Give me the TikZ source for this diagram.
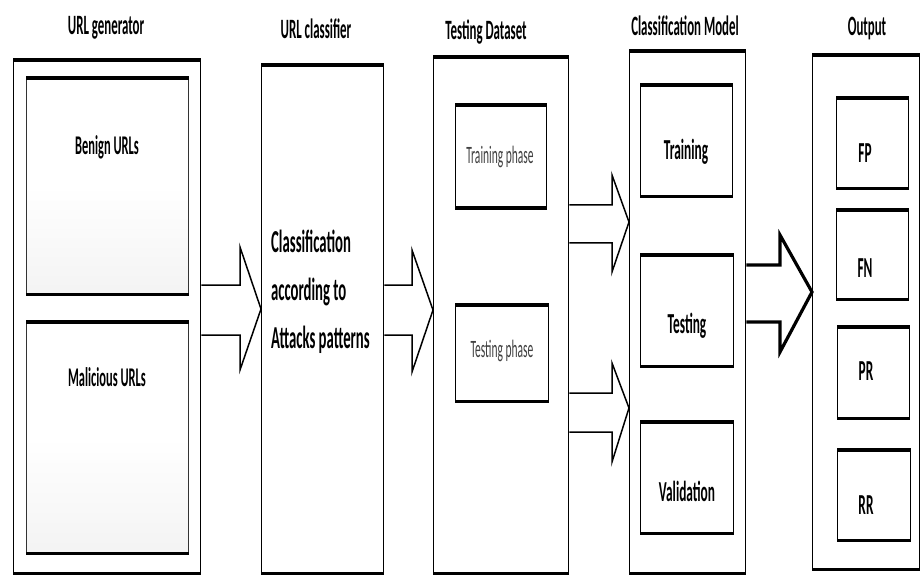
\documentclass[tikz,border=0pt]{standalone}
\usepackage{fontspec}
\setmainfont{Carlito}[FakeStretch=0.46]
\usetikzlibrary{calc}
\newcommand\fsz[1]{\fontsize{#1}{#1}\selectfont}
\tikzset{
  thickedge/.style={draw, line width=3.4pt, -},
  box/.style={draw, line width=1.4pt, fill=white, inner sep=0pt, anchor=north west,
    append after command={
      (\tikzlastnode.north west) edge[thickedge] (\tikzlastnode.north east)
      (\tikzlastnode.south west) edge[thickedge] (\tikzlastnode.south east)}},
  urlbox/.style={box, top color=white, bottom color=gray!9, middle color=white, draw=black!80},
  title/.style={font=\fsz{28}\bfseries, inner sep=0pt},
  lbl/.style={font=\fsz{29}\bfseries, inner sep=0pt},
  phase/.style={font=\fsz{25}, text=black!75, inner sep=0pt},
  blockarrow/.style={draw, line width=1.5pt, line join=miter},
}
\begin{document}
\begin{tikzpicture}[x=1pt, y=-1pt]
\useasboundingbox[fill=white] (0,0) rectangle (922,575);

% titles
\node[title] (tgen) at (106,28) {URL generator};
\node[title] (tcls) at (316,29) {URL classifier};
\node[title] (tds)  at (486,32) {Testing Dataset};
\node[title] (tmod) at (685,26) {Classification Model};
\node[title] (tout) at (867,29) {Output};

% outer boxes
\node[box, minimum width=187pt, minimum height=512pt] (gen) at (13,60) {};
\node[box, minimum width=122pt, minimum height=507pt] (cls) at (261,65) {};
\node[box, minimum width=135pt, minimum height=515pt] (ds)  at (433,57) {};
\node[box, minimum width=116pt, minimum height=521pt] (mod) at (629,51) {};
\node[box, minimum width=107pt, minimum height=513pt] (out) at (812,55) {};

% URL generator content
\node[urlbox, minimum width=162pt, minimum height=215pt] (benign) at (26,78) {};
\node[urlbox, minimum width=162pt, minimum height=230pt] (malic) at (26,322) {};
\node[lbl, font=\fsz{27}\bfseries] (tbenign) at (107,147) {Benign URLs};
\node[lbl, font=\fsz{27}\bfseries] (tmalic) at (107,377) {Malicious URLs};

% URL classifier content
\node[font=\fontsize{32}{48}\selectfont\bfseries, align=left, anchor=west, inner sep=0pt] (tclass) at (271,292)
  {Classification\\according to\\Attacks patterns};

% Testing dataset content
\node[box, line width=1.2pt, minimum width=91pt, minimum height=102pt] (trph) at (455,105) {};
\node[box, line width=1.2pt, minimum width=93pt, minimum height=95pt] (teph) at (455,305) {};
\node[phase] (ttrph) at (500,157) {Training phase};
\node[phase] (tteph) at (502,351) {Testing phase};

% Classification model content
\node[box, minimum width=92pt, minimum height=110pt] (train) at (640,85) {};
\node[box, minimum width=93pt, minimum height=110pt] (test) at (640,255) {};
\node[box, minimum width=93pt, minimum height=110pt] (valid) at (640,422) {};
\node[lbl] (ttrain) at (686,152) {Training};
\node[lbl] (ttest) at (687,326) {Testing};
\node[lbl] (tvalid) at (687,491) {Validation};

% Output content
\node[box, minimum width=72pt, minimum height=89pt] (fp) at (836,98) {};
\node[box, minimum width=72pt, minimum height=88pt] (fn) at (836,210) {};
\node[box, minimum width=72pt, minimum height=90pt] (pr) at (837,327) {};
\node[box, minimum width=73pt, minimum height=89pt] (rr) at (837,450) {};
\node[lbl] (tfp) at (865,153) {FP};
\node[lbl] (tfn) at (865,268) {FN};
\node[lbl] (tpr) at (866,371) {PR};
\node[lbl] (trr) at (866,505) {RR};

% block arrows
\draw[blockarrow] (gen.east |- 0,285) -- (240,285) -- (240,247) -- (cls.west |- 0,309)
  -- (240,370) -- (240,335) -- (gen.east |- 0,335);
\draw[blockarrow] (cls.east |- 0,285) -- (412,285) -- (412,250) -- (ds.west |- 0,310)
  -- (412,372) -- (412,335) -- (cls.east |- 0,335);
\draw[blockarrow] (ds.east |- 0,205) -- (612,205) -- (612,175) -- (mod.west |- 0,222)
  -- (612,272) -- (612,243) -- (ds.east |- 0,243);
\draw[blockarrow] (ds.east |- 0,393) -- (612,393) -- (612,363) -- (mod.west |- 0,408)
  -- (612,462) -- (612,432) -- (ds.east |- 0,432);
\draw[blockarrow, line width=3.2pt] (mod.east |- 0,265) -- (780,265) -- (780,235) -- (out.west |- 0,292)
  -- (780,352) -- (780,322) -- (mod.east |- 0,322);
\end{tikzpicture}
\end{document}
